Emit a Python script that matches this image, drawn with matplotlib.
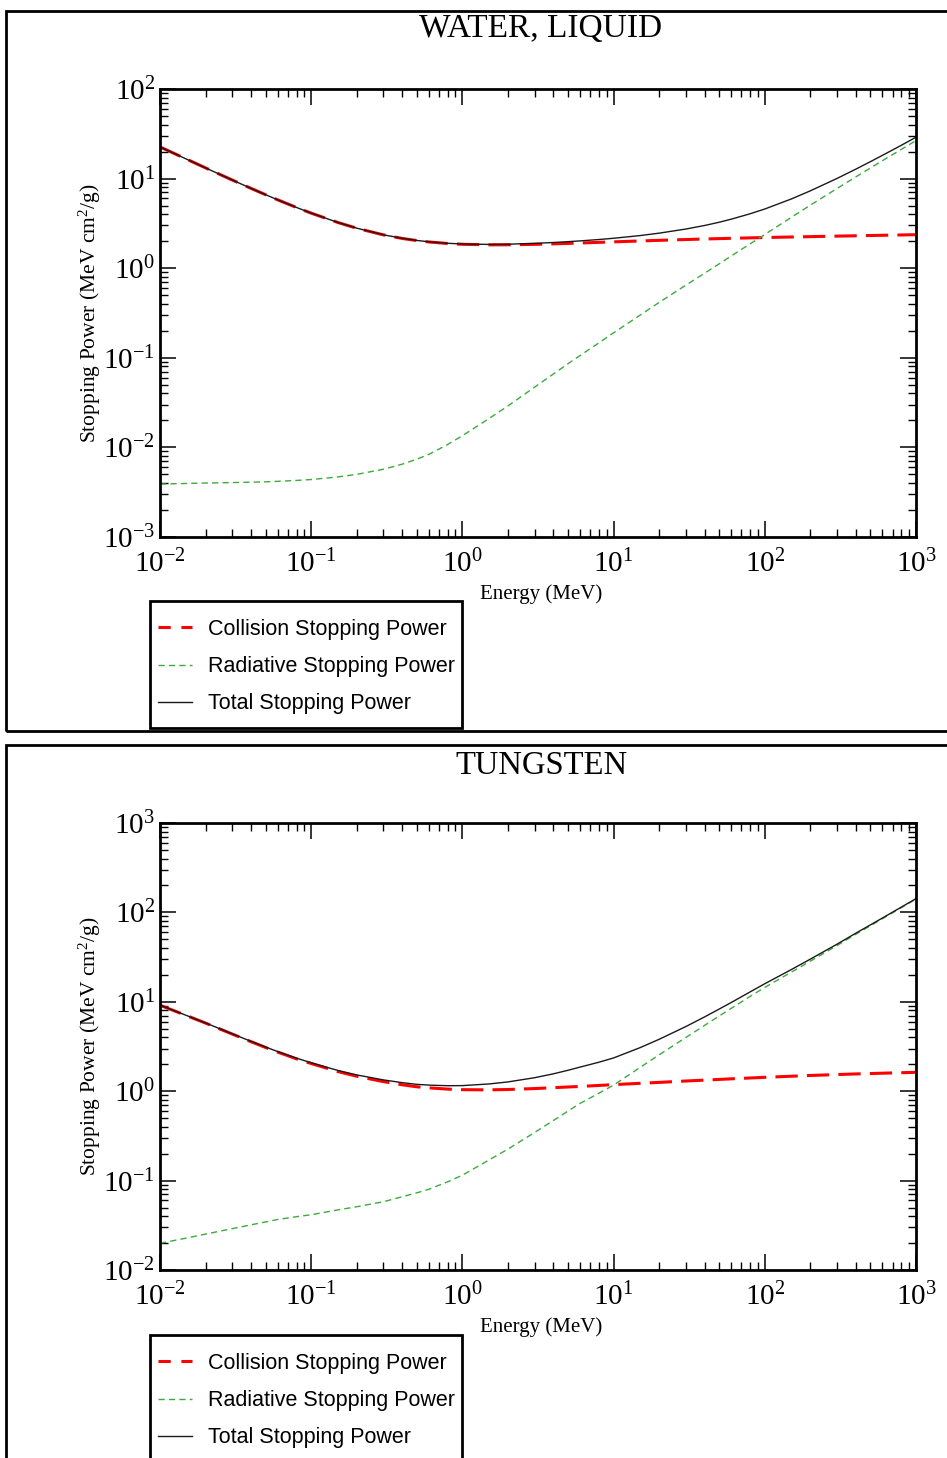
import numpy as np
import matplotlib
matplotlib.use("Agg")
import matplotlib.pyplot as plt
from matplotlib.patches import Rectangle
from matplotlib.lines import Line2D
from matplotlib.ticker import LogLocator, FuncFormatter, NullFormatter

plt.rcParams["font.family"] = ["Liberation Serif", "DejaVu Serif"]
plt.rcParams["mathtext.fontset"] = "custom"
plt.rcParams["mathtext.rm"] = "Liberation Serif"
plt.rcParams["mathtext.it"] = "Liberation Serif:italic"
plt.rcParams["mathtext.bf"] = "Liberation Serif:bold"

# ---------------- data (MeV, MeV cm^2/g) ----------------
energy = [0.01, 0.015, 0.02, 0.03, 0.04, 0.05, 0.06, 0.08, 0.1, 0.15, 0.2, 0.3,
          0.4, 0.5, 0.6, 0.8, 1.0, 1.5, 2, 3, 4, 5, 6, 8, 10, 15, 20, 30, 40,
          50, 60, 80, 100, 150, 200, 300, 400, 500, 600, 800, 1000]

water_collision = [22.56, 16.47, 13.17, 9.653, 7.777, 6.603, 5.797, 4.757, 4.115,
                   3.238, 2.793, 2.355, 2.148, 2.034, 1.963, 1.886, 1.849, 1.822,
                   1.824, 1.846, 1.870, 1.892, 1.911, 1.943, 1.968, 2.014, 2.046,
                   2.089, 2.118, 2.139, 2.156, 2.181, 2.199, 2.230, 2.251, 2.280,
                   2.301, 2.317, 2.330, 2.350, 2.366]
water_radiative = [0.00390, 0.00396, 0.00400, 0.00405, 0.00409, 0.00413, 0.00418,
                   0.00428, 0.00438, 0.00468, 0.00500, 0.00570, 0.00650, 0.00740,
                   0.00835, 0.0108, 0.0135, 0.021, 0.029, 0.047, 0.066, 0.086,
                   0.106, 0.147, 0.19, 0.30, 0.415, 0.645, 0.88, 1.12, 1.37, 1.87,
                   2.38, 3.70, 5.05, 7.75, 10.45, 13.15, 15.85, 21.2, 26.6]
water_total = [22.56, 16.47, 13.17, 9.657, 7.781, 6.607, 5.801, 4.761, 4.119,
               3.243, 2.798, 2.361, 2.155, 2.041, 1.971, 1.897, 1.863, 1.843,
               1.853, 1.893, 1.936, 1.978, 2.017, 2.090, 2.158, 2.314, 2.461,
               2.734, 2.998, 3.259, 3.526, 4.051, 4.579, 5.930, 7.301, 10.03,
               12.75, 15.47, 18.18, 23.55, 28.97]

tungsten_collision = [9.15, 7.00, 5.78, 4.36, 3.58, 3.08, 2.74, 2.30, 2.04, 1.66,
                      1.47, 1.28, 1.18, 1.12, 1.09, 1.055, 1.04, 1.035, 1.045,
                      1.07, 1.095, 1.115, 1.13, 1.16, 1.185, 1.225, 1.255, 1.30,
                      1.33, 1.355, 1.375, 1.405, 1.43, 1.47, 1.50, 1.535, 1.56,
                      1.575, 1.59, 1.61, 1.625]
tungsten_radiative = [0.0199, 0.0228, 0.0252, 0.0290, 0.0320, 0.0345, 0.0367,
                      0.0395, 0.0415, 0.0470, 0.0510, 0.0580, 0.0660, 0.0730,
                      0.0800, 0.0970, 0.115, 0.170, 0.225, 0.345, 0.470, 0.600,
                      0.730, 0.950, 1.17, 1.85, 2.55, 3.98, 5.45, 6.95, 8.45,
                      11.5, 14.5, 21.5, 28.5, 42.5, 57.0, 71.0, 85.0, 113.0, 141.0]
tungsten_total = [9.170, 7.023, 5.805, 4.389, 3.612, 3.115, 2.777, 2.340, 2.082,
                  1.707, 1.521, 1.338, 1.246, 1.193, 1.170, 1.152, 1.155, 1.205,
                  1.270, 1.415, 1.565, 1.715, 1.860, 2.110, 2.355, 3.075, 3.805,
                  5.280, 6.780, 8.305, 9.825, 12.91, 15.93, 22.97, 30.00, 44.04,
                  58.56, 72.58, 86.59, 114.6, 142.6]

series_labels = ["Collision Stopping Power", "Radiative Stopping Power",
                 "Total Stopping Power"]

# ---------------- figure helpers (pixel -> figure fraction) ----------------
W, H = 947, 1458
fig = plt.figure(figsize=(W / 100, H / 100), dpi=100)


def fx(px):
    return px / W


def fy(py):
    return 1 - py / H


def power_label(v, pos):
    e = int(round(np.log10(v)))
    return r"$\mathregular{10^{%d}}$" % e


RED = "#ff0000"
GREEN = "#3cab3c"
BLACK = "#1a1a1a"


def panel(frame_top, frame_bottom, ax_top, ax_bottom, title, title_y,
          title_size, ylim, col, rad, tot, legend_top, legend_bottom):
    # outer panel frame
    fig.add_artist(Rectangle((fx(6), fy(frame_bottom)), fx(980) - fx(6),
                             (frame_bottom - frame_top) / H,
                             transform=fig.transFigure, fill=False,
                             lw=2.0, ec="black", clip_on=False))

    ax = fig.add_axes([fx(160), fy(ax_bottom), fx(916) - fx(160),
                       (ax_bottom - ax_top) / H])
    ax.set_xscale("log")
    ax.set_yscale("log")

    ax.plot(energy, col, color=RED, lw=2.2, dashes=(7.3, 3.0))
    ax.plot(energy, rad, color=GREEN, lw=1.0, dashes=(4.5, 3.0))
    ax.plot(energy, tot, color=BLACK, lw=1.0)

    ax.set_xlim(1e-2, 1e3)
    ax.set_ylim(*ylim)

    for axis in (ax.xaxis, ax.yaxis):
        axis.set_major_locator(LogLocator(base=10, numticks=20))
        axis.set_minor_locator(LogLocator(base=10, subs=np.arange(2, 10),
                                          numticks=100))
        axis.set_major_formatter(FuncFormatter(power_label))
        axis.set_minor_formatter(NullFormatter())

    ax.tick_params(which="both", direction="in", top=True, right=True,
                   color="black")
    ax.tick_params(which="major", length=11.5, width=1.1, labelsize=21)
    ax.tick_params(which="minor", length=5.8, width=1.0)
    ax.tick_params(axis="x", which="major", pad=9)
    ax.tick_params(axis="y", which="major", pad=3.5)
    for s in ax.spines.values():
        s.set_linewidth(2.0)

    fig.text(fx(541), fy(title_y), title,
             ha="center", va="center", fontsize=title_size)
    fig.text(fx(541), fy(ax_bottom + 57), "Energy (MeV)",
             ha="center", va="center", fontsize=15)
    fig.text(fx(90), fy((ax_top + ax_bottom) / 2),
             r"Stopping Power (MeV cm$^{\mathregular{2}}$/g)",
             ha="center", va="center", rotation=90, fontsize=15.5)

    # legend: entries placed by matplotlib, box drawn as a plain rectangle
    handles = [Line2D([], [], color=RED, lw=2.2, dashes=(4.0, 3.5)),
               Line2D([], [], color=GREEN, lw=1.0, dashes=(4.5, 3.0)),
               Line2D([], [], color=BLACK, lw=1.0)]
    ax.legend(handles, series_labels, loc="upper left",
              bbox_to_anchor=(fx(158), fy(legend_top + 18)),
              bbox_transform=fig.transFigure, borderaxespad=0,
              frameon=False, borderpad=0, labelspacing=0.75,
              handlelength=1.58, handletextpad=0.74,
              prop={"family": "Liberation Sans", "size": 15.5})
    fig.add_artist(Rectangle((fx(150), fy(legend_bottom)), fx(462) - fx(150),
                             (legend_bottom - legend_top) / H,
                             transform=fig.transFigure, fill=False,
                             lw=2.0, ec="black", clip_on=False))
    return ax


panel(11, 731, 89, 537, "WATER, LIQUID", 29, 24, (1e-3, 1e2),
      water_collision, water_radiative, water_total, 601, 728)
panel(745, 1500, 823, 1270, "TUNGSTEN", 766, 23.5, (1e-2, 1e3),
      tungsten_collision, tungsten_radiative, tungsten_total, 1335, 1462)

fig.savefig("out.png", dpi=100)
